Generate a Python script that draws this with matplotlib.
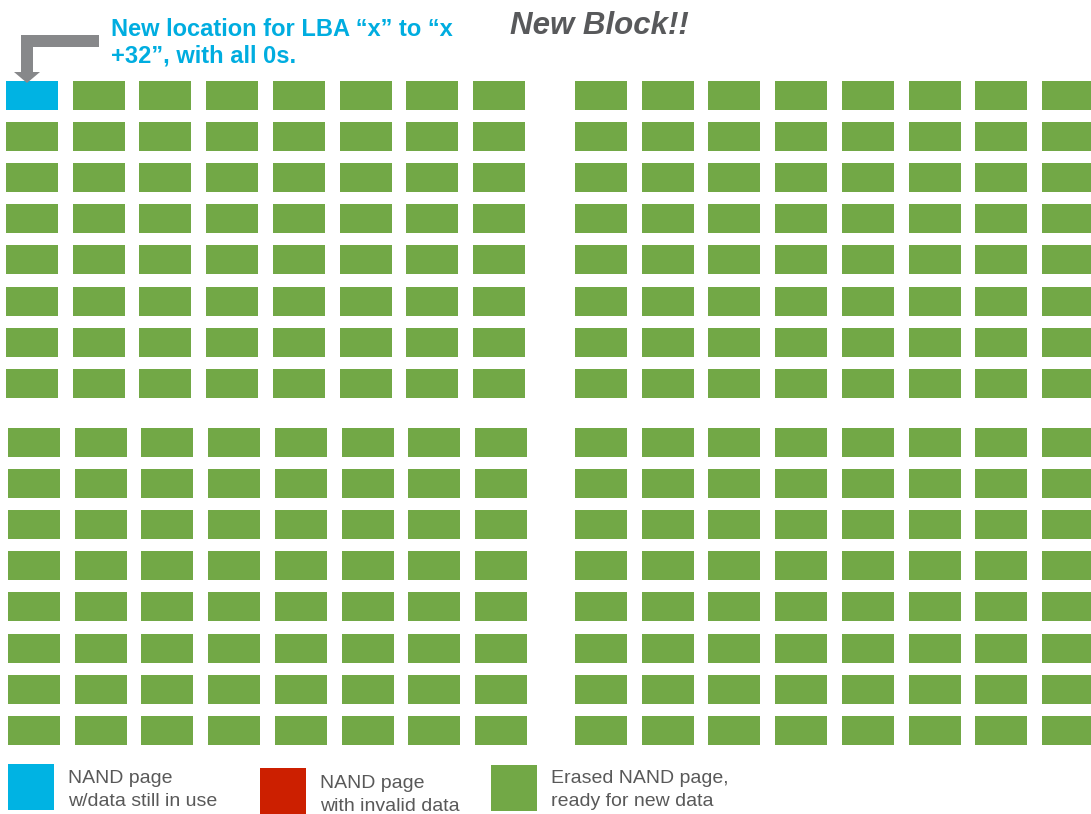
import matplotlib.pyplot as plt
from matplotlib.patches import Rectangle, Polygon

# page states per block: 'E' erased, 'U' in use, 'I' invalid
n_rows, n_cols = 8, 8
blocks = {
    'top_left': [['E'] * n_cols for _ in range(n_rows)],
    'top_right': [['E'] * n_cols for _ in range(n_rows)],
    'bottom_left': [['E'] * n_cols for _ in range(n_rows)],
    'bottom_right': [['E'] * n_cols for _ in range(n_rows)],
}
blocks['top_left'][0][0] = 'U'

legend_keys = ['U', 'I', 'E']
legend_labels = [['NAND page', 'w/data still in use'],
                 ['NAND page', 'with invalid data'],
                 ['Erased NAND page,', 'ready for new data']]

title = 'New Block!!'
note_lines = ['New location for LBA \u201cx\u201d to \u201cx',
              '+32\u201d, with all 0s.']

colors = {'U': '#00b3e3', 'I': '#cc1f00', 'E': '#72a846'}
gray_txt = '#595959'

# layout in pixels
W, H = 1091, 814
origins = {'top_left': (6, 81), 'top_right': (575, 81),
           'bottom_left': (8, 428), 'bottom_right': (575, 428)}
dx, dy = 66.7, 41.1
pw, ph = 52, 29

fig = plt.figure(figsize=(W / 100, H / 100), dpi=100)
ax = fig.add_axes([0, 0, 1, 1])
ax.set_xlim(0, W)
ax.set_ylim(H, 0)
ax.axis('off')

for name, grid in blocks.items():
    x0, y0 = origins[name]
    for r, row in enumerate(grid):
        for c, state in enumerate(row):
            ax.add_patch(Rectangle((x0 + c * dx, y0 + r * dy), pw, ph,
                                   facecolor=colors[state], edgecolor='none'))

# arrow pointing at the new page
arrow_col = '#87888a'
ax.add_patch(Polygon([(99, 35), (21, 35), (21, 72), (14, 72), (27, 83),
                      (40, 72), (33, 72), (33, 47), (99, 47)],
                     closed=True, facecolor=arrow_col, edgecolor='none'))

for i, line in enumerate(note_lines):
    ax.text(111, 36 + i * 27, line, color='#00ade0', fontsize=17, fontweight='bold',
            family='Liberation Sans', va='baseline', ha='left')
ax.text(510, 34, title, color='#58595b', fontsize=22.5, fontweight='bold',
        style='italic', family='Liberation Sans', va='baseline', ha='left')

# legend
leg_boxes = [(8, 764), (260, 768), (491, 765)]
leg_text = [(68, 783), (320, 788), (551, 783)]
for key, lines, (bx, by), (tx, ty) in zip(legend_keys, legend_labels, leg_boxes, leg_text):
    ax.add_patch(Rectangle((bx, by), 46, 46, facecolor=colors[key], edgecolor='none'))
    for i, line in enumerate(lines):
        ax.text(tx, ty + i * 23, line, color=gray_txt, fontsize=14,
                family='Liberation Sans', va='baseline', ha='left')

fig.savefig('out.png', dpi=100)
